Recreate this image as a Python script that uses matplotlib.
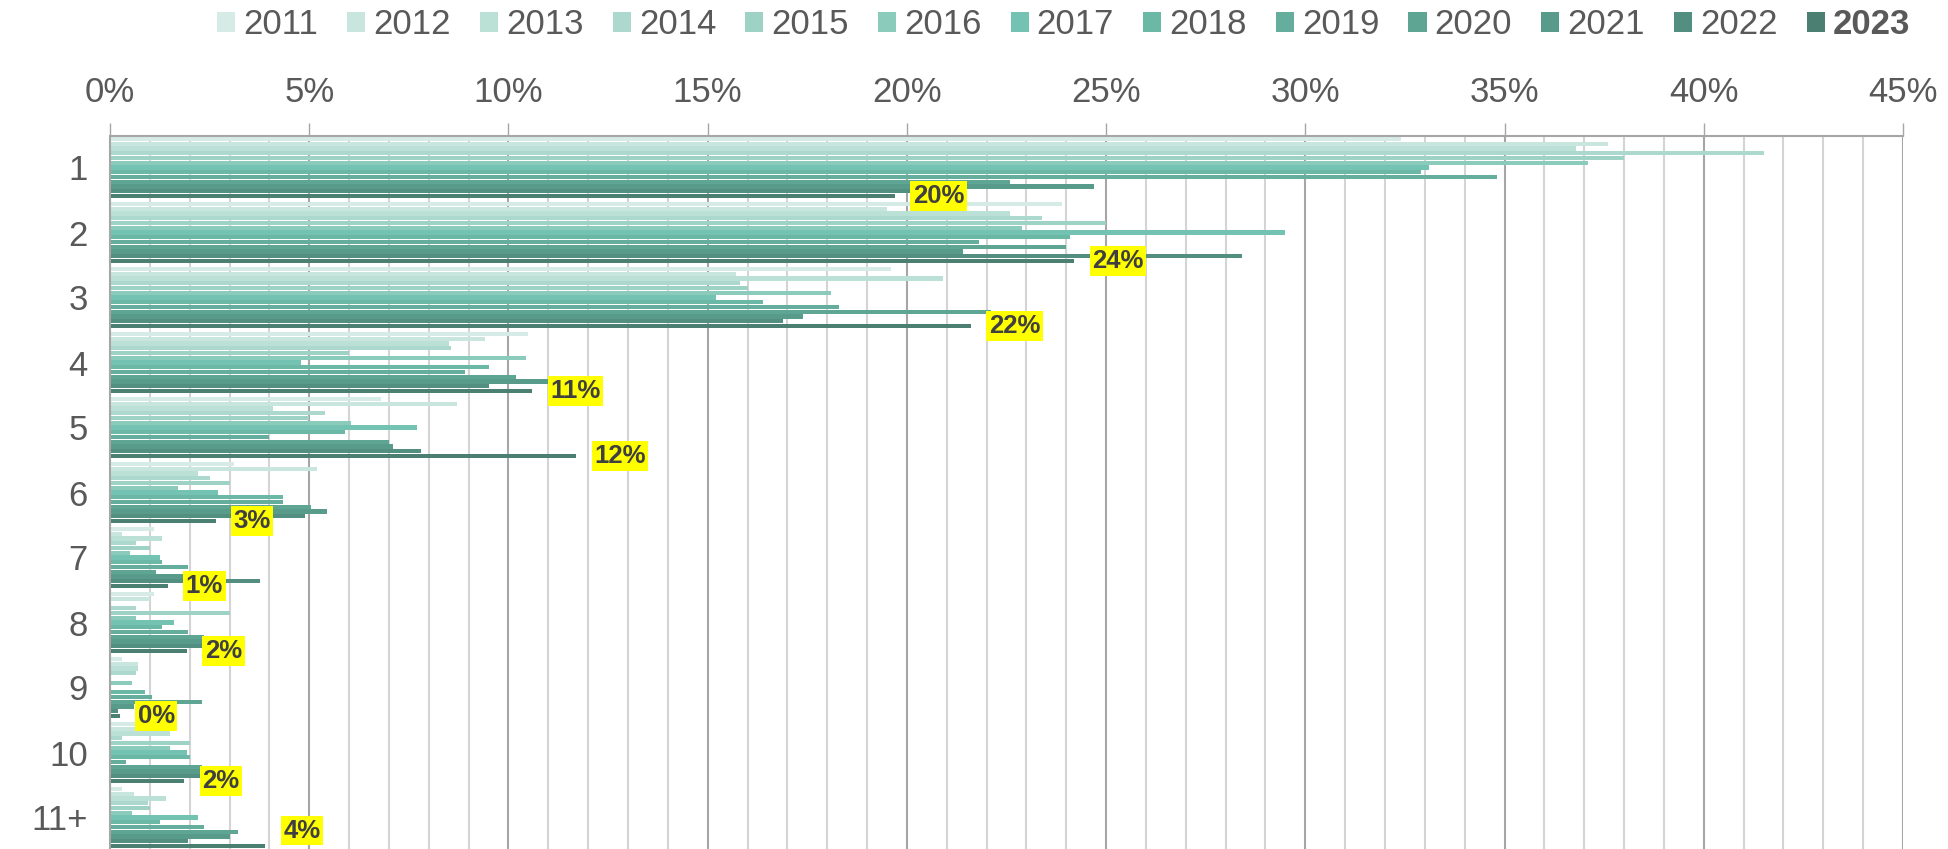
import matplotlib.pyplot as plt
import numpy as np

plt.rcParams['font.family'] = ['Liberation Sans', 'DejaVu Sans']

categories = ["1", "2", "3", "4", "5", "6", "7", "8", "9", "10", "11+"]
years = ["2011", "2012", "2013", "2014", "2015", "2016", "2017",
         "2018", "2019", "2020", "2021", "2022", "2023"]

# share (%) per category, one list per year
y2011 = [32.4, 23.9, 19.6, 10.5, 6.8, 3.1, 1.1, 1.1, 0.3, 1.0, 0.3]
y2012 = [37.6, 19.5, 15.7, 9.4, 8.7, 5.2, 0.3, 1.0, 0.7, 1.2, 0.6]
y2013 = [36.8, 22.6, 20.9, 8.5, 4.1, 2.2, 1.3, 0.0, 0.7, 1.5, 1.4]
y2014 = [41.5, 23.4, 15.8, 8.55, 5.4, 2.5, 0.65, 0.65, 0.65, 0.3, 0.95]
y2015 = [38.0, 25.0, 16.0, 6.0, 5.0, 3.0, 1.0, 3.0, 0.0, 2.0, 1.0]
y2016 = [37.1, 22.9, 18.1, 10.45, 6.05, 1.7, 0.5, 0.65, 0.55, 1.5, 0.55]
y2017 = [33.1, 29.5, 15.2, 4.8, 7.7, 2.7, 1.25, 1.6, 0.0, 1.93, 2.2]
y2018 = [32.9, 24.1, 16.4, 9.5, 5.9, 4.35, 1.3, 1.3, 0.87, 2.0, 1.25]
y2019 = [34.8, 21.8, 18.3, 8.9, 4.0, 4.35, 1.95, 1.97, 1.05, 0.4, 2.35]
y2020 = [22.6, 24.0, 22.1, 10.2, 7.0, 5.05, 1.15, 2.35, 2.3, 2.3, 3.2]
y2021 = [24.7, 21.4, 17.4, 11.0, 7.1, 5.45, 2.0, 3.35, 0.6, 2.35, 3.0]
y2022 = [20.5, 28.4, 16.9, 9.5, 7.8, 4.9, 3.77, 2.4, 0.21, 2.3, 1.97]
y2023 = [19.7, 24.2, 21.6, 10.6, 11.7, 2.65, 1.45, 1.93, 0.24, 1.86, 3.9]

values = [y2011, y2012, y2013, y2014, y2015, y2016, y2017,
          y2018, y2019, y2020, y2021, y2022, y2023]

colors = ["#d6ebe5", "#c9e6de", "#bbe0d6", "#acd8cd", "#9dd2c4", "#8acbbb",
          "#74c3b2", "#6cb8a6", "#65ae9d", "#5fa594", "#599b8a", "#528f80",
          "#4a7f71"]

W, H = 1949, 849
fig = plt.figure(figsize=(W / 100, H / 100), dpi=100)
ax = fig.add_axes([110 / W, 0, (1903 - 110) / W, (H - 136) / H])

row = 0.95 / 13
pos = np.arange(len(categories))
for j, (yr, vals) in enumerate(zip(years, values)):
    ax.barh(pos + (j - 6) * row, vals, height=row * 0.86, color=colors[j],
            label=yr, zorder=2)

# data labels for 2023
for i, v in enumerate(y2023):
    dy = 11 if i == len(categories) - 1 else 0
    ax.annotate(f"{round(v)}%", (v, pos[i] + 6 * row), xytext=(13, dy),
                textcoords="offset points", ha="left", va="center",
                fontsize=18.5, fontweight="bold", color="#404040", zorder=5,
                bbox=dict(boxstyle="square,pad=0.1", fc="#ffff00", ec="none"))

ax.set_xlim(0, 45)
ax.set_ylim((H - 167.5) / 65, (136 - 167.5) / 65)
ax.xaxis.tick_top()
ax.set_xticks(np.arange(0, 46, 5))
ax.set_xticklabels([f"{t}%" for t in range(0, 46, 5)])
ax.set_xticks(np.arange(0, 46, 1), minor=True)
ax.set_yticks(pos)
ax.set_yticklabels(categories)

ax.tick_params(axis="x", which="major", length=9.5, width=1, color="#a6a6a6",
               labelsize=25, labelcolor="#595959", pad=10)
ax.tick_params(axis="x", which="minor", length=0)
ax.tick_params(axis="y", length=0, labelsize=25, labelcolor="#595959", pad=16)

ax.grid(axis="x", which="minor", color="#d4d4d4", linewidth=1.5, zorder=0)
ax.grid(axis="x", which="major", color="#a6a6a6", linewidth=1.5, zorder=0)
ax.set_axisbelow(True)

for s in ["right", "bottom"]:
    ax.spines[s].set_visible(False)
ax.spines["top"].set_color("#a6a6a6")
ax.spines["left"].set_color("#a6a6a6")
ax.spines["top"].set_linewidth(1.5)
ax.spines["left"].set_linewidth(1.5)

leg = fig.legend(ncol=13, loc="upper right", bbox_to_anchor=(1910 / W, 1 - 8 / H),
                 frameon=False, fontsize=25, handlelength=0.52, handleheight=0.52,
                 handletextpad=0.23, columnspacing=0.84, borderaxespad=0, borderpad=0)
for t in leg.get_texts():
    t.set_color("#595959")
leg.get_texts()[-1].set_fontweight("bold")

fig.savefig("out.png", dpi=100)
